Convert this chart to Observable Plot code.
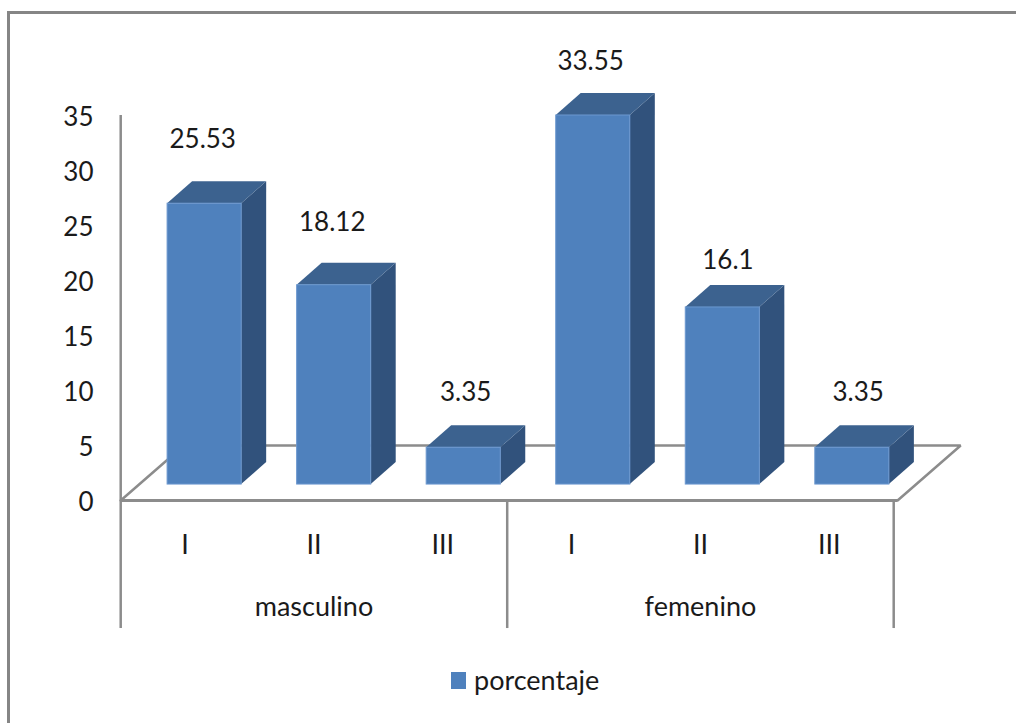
<!DOCTYPE html>
<html>
<head>
<meta charset="utf-8">
<script src="https://cdn.jsdelivr.net/npm/d3@7"></script>
<script src="https://cdn.jsdelivr.net/npm/@observablehq/plot@0.6"></script>
<style>
  html, body { margin: 0; padding: 0; background: #fff; width: 1016px; height: 723px; overflow: hidden; }
  body { position: relative; font-family: Lato, "Open Sans", sans-serif; color: #1a1a1a; }
  #frame { position: absolute; left: 7px; top: 11px; right: -4px; bottom: -4px; border: 3px solid #858585; }
  #chart { position: absolute; left: 0; top: 0; }
  #chart svg { display: block; background: transparent; }
  #legend { position: absolute; left: 451px; top: 671px; display: flex; align-items: center; font-size: 27px; line-height: 18px; }
  #legend i { display: block; width: 15px; height: 17px; background: #4f81bd; margin-right: 8px; }
</style>
</head>
<body>
<div id="frame"></div>
<div id="chart"></div>
<div id="legend"><i></i><span>porcentaje</span></div>
<script>
const groups = ["masculino", "femenino"];
const levels = ["I", "II", "III", "I", "II", "III"];
const porcentaje = [25.53, 18.12, 3.35, 33.55, 16.1, 3.35];
const yTicks = [0, 5, 10, 15, 20, 25, 30, 35];

// 3D projection of the bars, in scale units
const barWidth = 0.575, barStep = 1.0055, barStart = 0.364;
const baseLift = 1.45;                  // the bars stand on the middle of the floor
const depthX = 0.194, depthY = 2;
const floorX = 0.49, floorY = 5, floorOver = 0.03;
const axisDrop = -11.64;
// hand placement of the value labels above each bar
const labelLift = [5.95, 5.75, 5.05, 5.0, 4.35, 5.05];
const labelNudge = [-0.015, -0.015, 0.015, -0.02, 0.04, 0.045];

const bars = porcentaje.map((value, i) => {
  const x1 = barStart + i * barStep;
  return {id: i, value, x1, x2: x1 + barWidth, y1: baseLift, y2: baseLift + value};
});
const sideFaces = bars.flatMap(b => [
  {id: b.id, x: b.x2, y1: b.y1, y2: b.y2},
  {id: b.id, x: b.x2 + depthX, y1: b.y1 + depthY, y2: b.y2 + depthY}
]);
const topFaces = bars.flatMap(b => [
  {id: b.id, y: b.y2, x1: b.x1, x2: b.x2},
  {id: b.id, y: b.y2 + depthY, x1: b.x1 + depthX, x2: b.x2 + depthX}
]);
const floor = [
  {x: 0, y: 0},
  {x: floorX, y: floorY},
  {x: levels.length + floorOver + floorX, y: floorY},
  {x: levels.length + floorOver, y: 0}
];
const levelRows = levels.map((label, i) => ({label, x: i + 0.5}));
const groupRows = groups.map((label, i) => ({label, x: levels.length / groups.length * (i + 0.5)}));

const gray = "#8c8c8c";
const front = "#4f81bd", side = "#31527c", top_ = "#3c628f";

const plot = Plot.plot({
  width: 1016,
  height: 650,
  marginLeft: 120,
  marginRight: 123,
  marginTop: 115,
  marginBottom: 150,
  style: {fontFamily: "Lato, 'Open Sans', sans-serif", fontSize: "26px", color: "#1a1a1a", background: "transparent"},
  x: {domain: [0, levels.length], range: [120.2, 893.2], axis: null},
  y: {domain: [0, 35], range: [500, 115]},
  marks: [
    Plot.line(floor, {x: "x", y: "y", stroke: gray, strokeWidth: 2.5, strokeLinejoin: "miter"}),
    Plot.ruleY([0], {x1: 0, x2: levels.length + floorOver, stroke: gray, strokeWidth: 3}),
    Plot.ruleX([0, levels.length / 2, levels.length], {
      y1: axisDrop, y2: d => d === 0 ? 35 : 0, stroke: gray, strokeWidth: 2.5
    }),
    Plot.axisY({ticks: yTicks, tickSize: 0, tickPadding: 27, label: null, fontSize: 26, fill: "#1a1a1a", tickFormat: d => d, dy: 2}),
    Plot.areaY(sideFaces, {x: "x", y1: "y1", y2: "y2", z: "id", fill: side}),
    Plot.areaX(topFaces, {y: "y", x1: "x1", x2: "x2", z: "id", fill: top_}),
    Plot.rect(bars, {x1: "x1", x2: "x2", y1: "y1", y2: "y2", fill: front, stroke: "#6c98cf", strokeWidth: 1}),
    Plot.text(bars, {
      x: (b, i) => (b.x1 + b.x2) / 2 + labelNudge[i],
      y: (b, i) => b.y2 + labelLift[i],
      text: b => String(b.value),
      fontSize: 26, fill: "#1a1a1a", dy: 1
    }),
    Plot.text(levelRows, {x: "x", y: -4, text: "label", fontSize: 27, fill: "#1a1a1a", dy: 1}),
    Plot.text(groupRows, {x: "x", y: -9.9, text: "label", fontSize: 27, fill: "#1a1a1a", dy: -2})
  ]
});
document.getElementById("chart").append(plot);
</script>
</body>
</html>
